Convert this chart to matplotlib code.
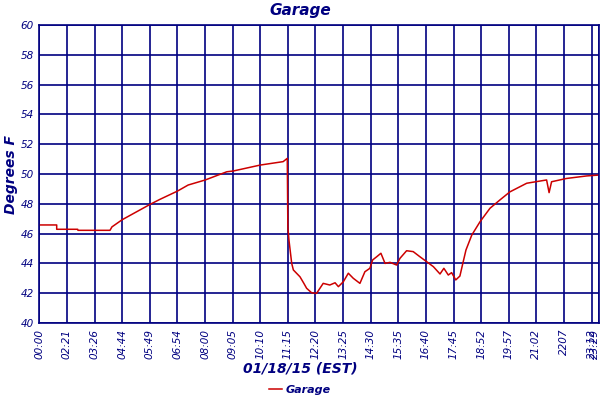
import numpy as np
import matplotlib.pyplot as plt
import matplotlib.transforms as mtransforms

# x is in "tick slots" (the chart uses evenly spaced time labels)
x_pos = [0.0, 0.63, 0.63, 1.39, 1.40, 2.56, 2.63, 3.0, 3.46, 4.02, 4.37, 5.0, 5.39,
         6.01, 6.79, 7.02, 8.0, 8.83, 8.98, 9.0, 9.04, 9.14, 9.2, 9.44, 9.58, 9.68,
         9.86, 10.04, 10.28, 10.52, 10.71, 10.83, 11.01, 11.19, 11.37, 11.61, 11.79,
         11.97, 12.07, 12.22, 12.37, 12.52, 12.70, 12.94, 13.06, 13.30, 13.54, 13.78,
         14.03, 14.27, 14.51, 14.65, 14.81, 14.93, 15.08, 15.23, 15.35, 15.45, 15.66,
         15.96, 16.32, 16.68, 17.04, 17.65, 18.37, 18.46, 18.55, 19.09, 19.82, 20.26]
temps = [46.58, 46.58, 46.29, 46.29, 46.22, 46.22, 46.45, 46.93, 47.4, 47.97, 48.3,
         48.85, 49.26, 49.6, 50.15, 50.2, 50.6, 50.83, 51.05, 46.46, 45.57, 44.0,
         43.56, 43.1, 42.66, 42.33, 42.03, 41.99, 42.66, 42.55, 42.7, 42.44, 42.77,
         43.34, 43.0, 42.66, 43.44, 43.67, 44.23, 44.45, 44.68, 44.0, 44.07, 43.89,
         44.34, 44.85, 44.79, 44.45, 44.11, 43.78, 43.29, 43.67, 43.22, 43.38, 42.89,
         43.15, 44.11, 44.9, 45.9, 46.8, 47.7, 48.26, 48.8, 49.38, 49.6, 48.75, 49.48,
         49.7, 49.87, 49.93]

tick_pos = list(range(21)) + [20.26]
tick_labels = ['00:00', '02:21', '03:26', '04:44', '05:49', '06:54', '08:00', '09:05',
               '10:10', '11:15', '12:20', '13:25', '14:30', '15:35', '16:40', '17:45',
               '18:52', '19:57', '21:02', '2207', '23:12', '23:29']

navy = '#000080'
red = '#cc0000'

fig = plt.figure(figsize=(6, 4), dpi=100)
ax = fig.add_axes([0.0655, 0.1925, 0.9325, 0.745])

ax.plot(x_pos, temps, color=red, lw=1.1, label='Garage')

ax.set_xlim(0, 20.26)
ax.set_ylim(40, 60)
ax.set_yticks(range(40, 61, 2))
ax.set_xticks(tick_pos)
ax.set_xticklabels(tick_labels, rotation=90, fontsize=7.5, style='italic', color=navy)
for t in ax.get_yticklabels():
    t.set_fontsize(7.5)
    t.set_style('italic')
    t.set_color(navy)
ax.tick_params(length=0, pad=4)
ax.grid(True, color=navy, lw=1.2)
ax.set_axisbelow(True)
for s in ax.spines.values():
    s.set_color(navy)
    s.set_linewidth(1.2)

# keep last label inside the figure
last = ax.get_xticklabels()[-1]
last.set_transform(last.get_transform() + mtransforms.ScaledTranslation(-3 / 72, 0, fig.dpi_scale_trans))

ax.set_ylabel('Degrees F', fontsize=10, style='italic', weight='bold', color=navy, labelpad=2)
fig.text(0.5, 0.975, 'Garage', ha='center', va='center', fontsize=11,
         style='italic', weight='bold', color=navy)
fig.text(0.5, 0.078, '01/18/15 (EST)', ha='center', va='center', fontsize=10,
         style='italic', weight='bold', color=navy)
leg = fig.legend(loc='center', bbox_to_anchor=(0.5, 0.025), frameon=False,
                 handlelength=1.2, handletextpad=0.3,
                 prop={'size': 8, 'style': 'italic', 'weight': 'bold'})
for t in leg.get_texts():
    t.set_color(navy)

fig.savefig('out.png')
